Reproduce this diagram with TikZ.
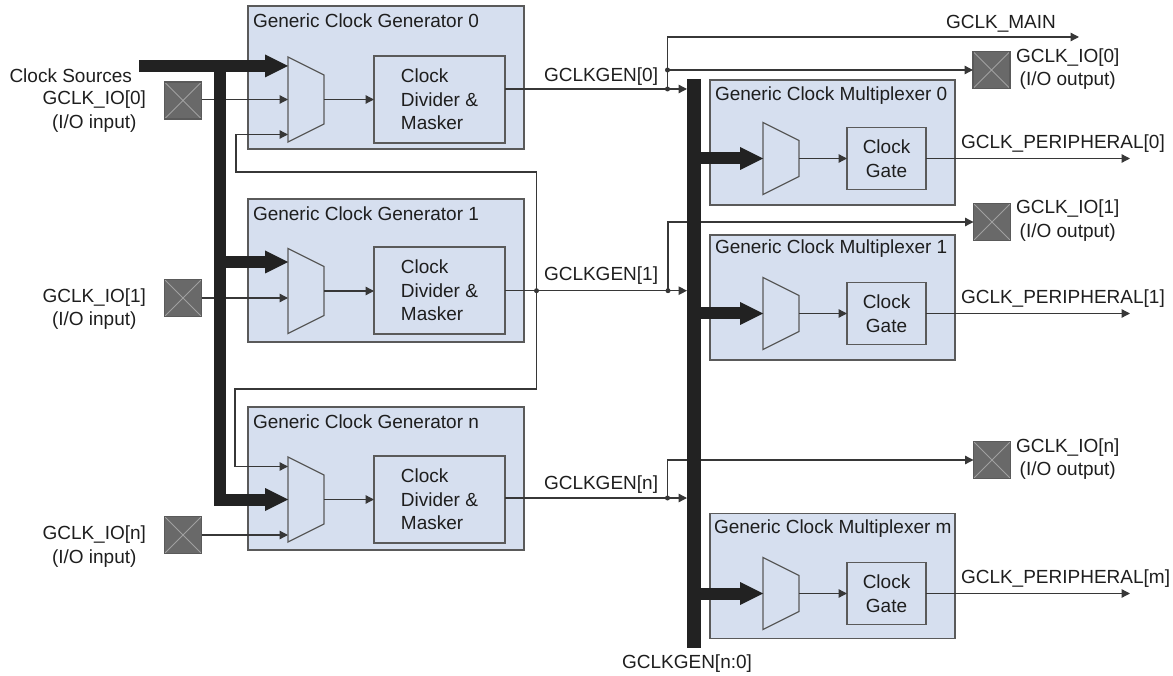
\documentclass[tikz,border=0pt]{standalone}
\usepackage{fontspec}
\setmainfont{Liberation Sans}
\usetikzlibrary{arrows.meta}
\definecolor{boxfill}{RGB}{214,223,239}
\definecolor{edgecol}{RGB}{90,90,90}
\definecolor{wirecol}{RGB}{55,55,55}
\definecolor{buscol}{RGB}{34,34,34}
\definecolor{padfill}{RGB}{105,105,105}
\definecolor{padx}{RGB}{160,160,160}
\definecolor{txtcol}{RGB}{30,30,30}
\tikzset{
  every node/.style={font=\fontsize{19}{23.5}\selectfont, text=txtcol, inner sep=0pt, outer sep=0pt},
  genbox/.style={draw=edgecol, fill=boxfill, line width=1.4pt, minimum width=276pt, minimum height=143pt},
  muxbox/.style={draw=edgecol, fill=boxfill, line width=1.4pt, minimum width=245pt, minimum height=125pt},
  divbox/.style={draw=edgecol, fill=boxfill, line width=1.4pt, minimum width=131pt, minimum height=87pt, align=left},
  gatebox/.style={draw=edgecol, fill=boxfill, line width=1.4pt, minimum width=79pt, minimum height=62pt, align=center},
  pad/.style={draw=edgecol, fill=padfill, line width=1.2pt, minimum width=37pt, minimum height=37pt,
    path picture={\draw[padx, line width=0.9pt] (path picture bounding box.north west) -- (path picture bounding box.south east)
      (path picture bounding box.north east) -- (path picture bounding box.south west);}},
  padlabel/.style={align=center},
  conn/.style={draw=wirecol, line width=1.3pt, -{Triangle[length=8.5pt,width=8.5pt]}},
  wire/.style={draw=wirecol, line width=1.3pt},
  fatarrow/.style={draw=buscol, line width=12pt, line join=miter, -{Triangle[length=23pt,width=23pt,line width=0pt]}},
  muxline/.style={draw=edgecol, fill=boxfill, line width=1.3pt},
  gmux/.pic={\draw[muxline] (-18,-42.5) -- (18,-24.5) -- (18,24.5) -- (-18,42.5) -- cycle;
    \coordinate (-o) at (18,0); \coordinate (-w) at (-18,0);},
  cmux/.pic={\draw[muxline] (-18,-36) -- (18,-18) -- (18,18) -- (-18,36) -- cycle;
    \coordinate (-o) at (18,0); \coordinate (-w) at (-18,0);},
}
\begin{document}
\begin{tikzpicture}[x=1pt,y=-1pt]
\useasboundingbox (0,0) rectangle (1173,676);

% ---------- generator boxes ----------
\node[genbox] (g0) at (386,77.5) {};
\node[genbox] (g1) at (386,270.5) {};
\node[genbox] (gn) at (386,478.5) {};
\node[anchor=west] (g0t) at (253,21) {Generic Clock Generator 0};
\node[anchor=west] (g1t) at (253,214) {Generic Clock Generator 1};
\node[anchor=west] (gnt) at (253,422) {Generic Clock Generator n};

\node[divbox] (dv0) at (439.5,99.5) {Clock\\Divider \&\\Masker};
\node[divbox] (dv1) at (439.5,290.5) {Clock\\Divider \&\\Masker};
\node[divbox] (dvn) at (439.5,499.5) {Clock\\Divider \&\\Masker};

\pic (gm0) at (306,99.5) {gmux};
\pic (gm1) at (306,291) {gmux};
\pic (gmn) at (306,499.5) {gmux};

% ---------- multiplexer boxes ----------
\node[muxbox] (x0) at (832.5,142.5) {};
\node[muxbox] (x1) at (832.5,297.5) {};
\node[muxbox] (xm) at (832.5,576) {};
\node[anchor=west] (x0t) at (715,96) {Generic Clock Multiplexer 0};
\node[anchor=west] (x1t) at (715,249) {Generic Clock Multiplexer 1};
\node[anchor=west] (xmt) at (714,529) {Generic Clock Multiplexer m};

\node[gatebox] (cg0) at (886.5,158.5) {Clock\\Gate};
\node[gatebox] (cg1) at (886.5,313.5) {Clock\\Gate};
\node[gatebox] (cgm) at (886.5,593.5) {Clock\\Gate};

\pic (cm0) at (781,158.5) {cmux};
\pic (cm1) at (781,313.5) {cmux};
\pic (cmm) at (781,593.5) {cmux};

% ---------- pads ----------
\node[pad] (pi0) at (183,100.5) {};
\node[pad] (pi1) at (183,298) {};
\node[pad] (pin) at (183,535) {};
\node[padlabel, anchor=east] (li0) at (146,111.5) {GCLK\_IO[0]\\(I/O input)};
\node[padlabel, anchor=east] (li1) at (146,309) {GCLK\_IO[1]\\(I/O input)};
\node[padlabel, anchor=east] (lin) at (146,546.5) {GCLK\_IO[n]\\(I/O input)};

\node[pad] (po0) at (991.5,70) {};
\node[pad] (po1) at (992,222) {};
\node[pad] (pon) at (992,460) {};
\node[padlabel, anchor=west] (lo0) at (1016,69) {GCLK\_IO[0]\\(I/O output)};
\node[padlabel, anchor=west] (lo1) at (1016,220.5) {GCLK\_IO[1]\\(I/O output)};
\node[padlabel, anchor=west] (lon) at (1016,459) {GCLK\_IO[n]\\(I/O output)};

% ---------- labels ----------
\node[anchor=east] (cs) at (132,76) {Clock Sources};
\node[anchor=west] (lg0) at (544,77) {GCLKGEN[0]};
\node[anchor=west] (lg1) at (544,276) {GCLKGEN[1]};
\node[anchor=west] (lgn) at (544,485) {GCLKGEN[n]};
\node (lmain) at (1001,24) {GCLK\_MAIN};
\node[anchor=west] (lp0) at (961,144) {GCLK\_PERIPHERAL[0]};
\node[anchor=west] (lp1) at (961,299) {GCLK\_PERIPHERAL[1]};
\node[anchor=west] (lpm) at (961,579) {GCLK\_PERIPHERAL[m]};
\node (lbus) at (687,664) {GCLKGEN[n:0]};

% ---------- coordinates ----------
\coordinate (csS) at (139,66);
\coordinate (busT) at (219.5,66);
\coordinate (busC) at (219.5,499.5);
\coordinate (bus1) at (219.5,262);
\coordinate (gm0a) at (288,66);
\coordinate (gm0c) at (288,134.5);
\coordinate (gm1a) at (288,262);
\coordinate (gmna) at (288,466.5);
\coordinate (fb1) at (236,172);
\coordinate (fb2) at (235,389);
\coordinate (b0) at (687,89);
\coordinate (b1) at (687,290.7);
\coordinate (bn) at (687,498);
\coordinate (d0) at (667.5,89);
\coordinate (d0b) at (667.5,70);
\coordinate (d1) at (668,290.7);
\coordinate (dn) at (667.5,498);
\coordinate (f1) at (536.5,290.7);
\coordinate (mainE) at (1079,37);
\coordinate (gbT) at (694,79);
\coordinate (gbB) at (694,648);
\coordinate (bo0) at (700,158.5);
\coordinate (bo1) at (700,313.5);
\coordinate (bom) at (700,593.5);
\coordinate (pe0) at (1130,158.5);
\coordinate (pe1) at (1130,313.5);
\coordinate (pem) at (1130,593.5);

% ---------- thin wires ----------
\draw[conn] (pi0.east |- gm0-w) -- (gm0-w);
\draw[conn] (pi1.east) -- (pi1.east -| gm1-w);
\draw[conn] (pin.east) -- (pin.east -| gmn-w);
\draw[conn] (gm0-o) -- (dv0.west |- gm0-o);
\draw[conn] (gm1-o) -- (dv1.west |- gm1-o);
\draw[conn] (gmn-o) -- (dvn.west |- gmn-o);
\draw[conn] (dv0.east |- b0) -- (b0);
\draw[conn] (dv1.east |- b1) -- (b1);
\draw[conn] (dvn.east |- bn) -- (bn);
\draw[conn] (f1) |- (fb1) |- (gm0c);
\draw[conn] (f1) |- (fb2) |- (gmna);
\draw[conn] (d0) |- (mainE);
\draw[conn] (d0b) -- (po0.west);
\draw[conn] (d1) |- (po1.west);
\draw[conn] (dn) |- (pon.west);
\draw[conn] (cm0-o) -- (cg0.west |- cm0-o);
\draw[conn] (cm1-o) -- (cg1.west |- cm1-o);
\draw[conn] (cmm-o) -- (cgm.west |- cmm-o);
\draw[conn] (cg0.east) -- (pe0);
\draw[conn] (cg1.east) -- (pe1);
\draw[conn] (cgm.east) -- (pem);

% ---------- dots ----------
\foreach \p in {d0,d0b,d1,dn,f1} \fill[wirecol] (\p) circle (2.5);

% ---------- buses ----------
\draw[fatarrow] (csS) -- (gm0a);
\draw[fatarrow] (busT) -- (busC) -- (gmn-w);
\draw[fatarrow] (bus1) -- (gm1a);
\draw[draw=buscol, line width=13.5pt] (gbT) -- (gbB);
\draw[fatarrow] (bo0) -- (cm0-w);
\draw[fatarrow] (bo1) -- (cm1-w);
\draw[fatarrow] (bom) -- (cmm-w);
\end{tikzpicture}
\end{document}
